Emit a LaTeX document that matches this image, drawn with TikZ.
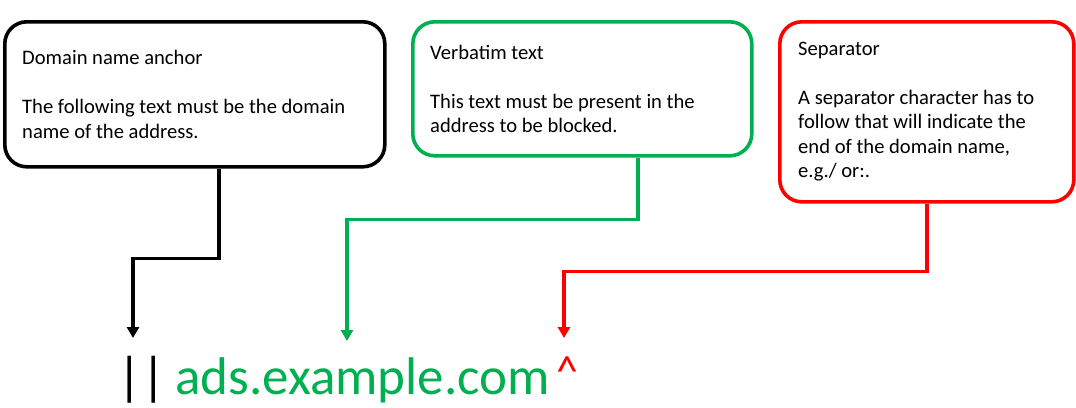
\documentclass[tikz,border=0pt]{standalone}
\usepackage{fontspec}
\setmainfont{Carlito}
\usetikzlibrary{arrows.meta}
\definecolor{offgreen}{RGB}{0,176,80}
\definecolor{offred}{RGB}{255,0,0}
\tikzset{
  box/.style={draw, line width=3.6pt, rounded corners=22pt, fill=white, inner sep=0pt},
  boxtext/.style={align=left, inner sep=0pt, font=\fontsize{20.6}{24.5}\selectfont, anchor=west},
  conn/.style={line width=3.4pt, -{Triangle[width=12pt,length=11pt]}},
  big/.style={inner sep=0pt, anchor=base west, font=\fontsize{53}{60}\selectfont},
}
\begin{document}
\begin{tikzpicture}[x=1pt,y=-1pt]
\useasboundingbox (0,0) rectangle (1076,407);
% boxes
\node[box, draw=black, minimum width=380pt, minimum height=145pt, anchor=north west] (b1) at (3,20) {};
\node[boxtext] (t1) at ([xshift=19pt]b1.west) {Domain name anchor\\[24.5pt]The following text must be the domain\\name of the address.};
\node[box, draw=offgreen, minimum width=339pt, minimum height=134pt, anchor=north west] (b2) at (411,20) {};
\node[boxtext] (t2) at ([xshift=19pt]b2.west) {Verbatim text\\[24.5pt]This text must be present in the\\address to be blocked.};
\node[box, draw=offred, minimum width=294pt, minimum height=180pt, anchor=north west] (b3) at (778,20) {};
\node[boxtext] (t3) at ([xshift=20pt]b3.west) {Separator\\[24.5pt]A separator character has to\\follow that will indicate the\\end of the domain name,\\e.g./ or:.};
% address text
\node[big, text=black] (bars) at (117,394) {||};
\node[big, text=offgreen] (dom) at (175,394) {ads.example.com};
\node[big, text=offred, font=\fontsize{44}{50}\selectfont] (caret) at (556,386) {\textasciicircum};
% arrow ends
\coordinate (e1) at (133,338);
\coordinate (e2) at (347,341);
\coordinate (e3) at (564,338);
% connectors
\draw[conn, draw=black] ([xshift=24pt]b1.south) -- ++(0,90) -| (e1);
\draw[conn, draw=offgreen] ([xshift=55.5pt]b2.south) -- ++(0,62) -| (e2);
\draw[conn, draw=offred] (b3.south) -- ++(0,68) -| (e3);
\end{tikzpicture}
\end{document}
